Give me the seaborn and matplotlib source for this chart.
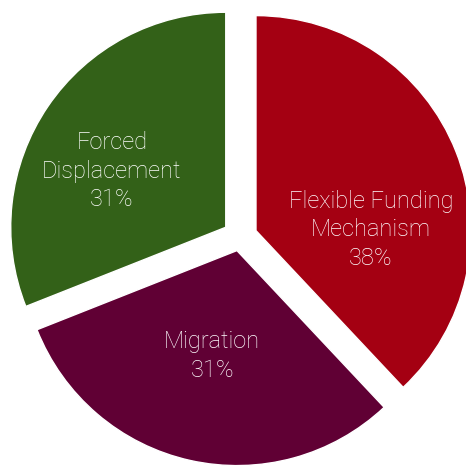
import matplotlib
matplotlib.use("Agg")
import matplotlib.pyplot as plt
import seaborn as sns
import numpy as np

sns.set_theme(style="white")
plt.rcParams['font.family'] = ['Roboto', 'DejaVu Sans']

# dados
categorias = ["Flexible Funding\nMechanism", "Migration", "Forced\nDisplacement"]
valores = [38, 31, 31]
cores = ["#A40012", "#600034", "#336118"]

# posição dos rótulos (ângulo extra em graus, raio)
ajuste_ang = [-18.5, -0.5, 7]
ajuste_raio = [0.61, 0.57, 0.67]

fig = plt.figure(figsize=(4.66, 4.67), dpi=100)
ax = fig.add_axes([0, 0, 1, 1])

wedges, _ = ax.pie(valores, colors=cores, startangle=90, counterclock=False,
                   explode=[0.08, 0.065, 0.08], radius=1.0)

total = sum(valores)
for w, cat, v, da, r in zip(wedges, categorias, valores, ajuste_ang, ajuste_raio):
    mid = np.deg2rad((w.theta1 + w.theta2) / 2 + da)
    ax.text(r * np.cos(mid), r * np.sin(mid), f"{cat}\n{round(v / total * 100)}%",
            ha="center", va="center", color="white", fontsize=17,
            fontweight="light", linespacing=1.32)

ax.set_xlim(-1.116, 1.051)
ax.set_ylim(-1.070, 1.102)
ax.set_aspect("auto")
ax.axis("off")

fig.savefig("out.png", dpi=100)
